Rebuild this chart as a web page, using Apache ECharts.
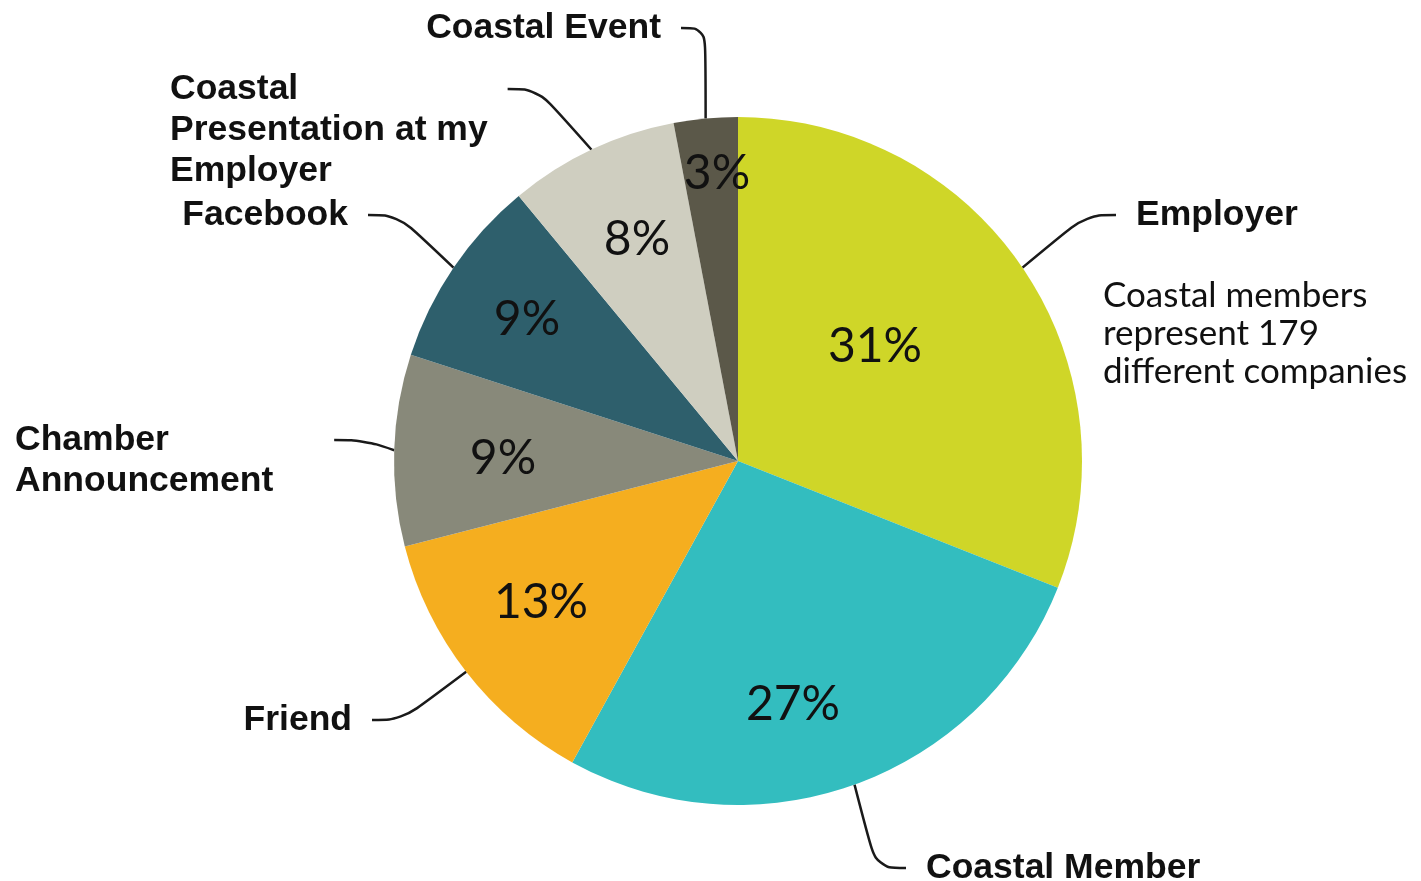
<!DOCTYPE html>
<html><head><meta charset="utf-8">
<script src="https://cdn.jsdelivr.net/npm/echarts@6/dist/echarts.min.js"></script>
<style>html,body{margin:0;padding:0;background:#fff}#c{width:1421px;height:881px}</style>
</head><body><div id="c"></div>
<script>
const categories = ['Employer', 'Coastal Member', 'Friend', 'Chamber\nAnnouncement', 'Facebook', 'Coastal\nPresentation at my\nEmployer', 'Coastal Event'];
const values = [31, 27, 13, 9, 9, 8, 3];
const colors = ['#CFD628', '#33BDBF', '#F5AE1F', '#88897A', '#2E5F6C', '#CFCEC0', '#5B5849'];
const note = 'Coastal members\nrepresent 179\ndifferent companies';

// label placement (text anchors only; outer anchors include a 20px padding gap)
const innerPos = [[875, 347], [793, 705], [541, 603], [503, 459], [527, 320], [637, 240], [717, 174]];
const outerPos = [[1116, 215, 'left'], [906, 868, 'left'], [372, 720, 'right'], [-5, 440, 'left'], [368, 215, 'right'], [150, 89, 'left'], [681, 28, 'right']];
// blank lines placed before the text so the leader line meets the first text line
const leadBlank = [0, 0, 0, 1, 0, 2, 0];

const chart = echarts.init(document.getElementById('c'), null, {renderer: 'canvas'});
const pieData = categories.map((c, i) => ({name: c, value: values[i], itemStyle: {color: colors[i]}}));
const ghostData = categories.map((c, i) => ({name: c, value: values[i]}));

chart.setOption({
  animation: false,
  backgroundColor: '#fff',
  series: [
    {
      type: 'pie',
      center: [738, 461],
      radius: [0, 344],
      startAngle: 90,
      clockwise: true,
      silent: true,
      itemStyle: {borderWidth: 0},
      label: {
        show: true,
        position: 'inside',
        formatter: p => p.value + '%',
        color: '#111',
        fontFamily: 'Lato, "DejaVu Sans", sans-serif',
        fontSize: 48
      },
      labelLine: {show: false},
      labelLayout: p => ({x: innerPos[p.dataIndex][0], y: innerPos[p.dataIndex][1], align: 'center', verticalAlign: 'middle'}),
      data: pieData
    },
    {
      type: 'pie',
      center: [738, 461],
      radius: [0, 344],
      startAngle: 90,
      clockwise: true,
      silent: true,
      itemStyle: {color: 'rgba(0,0,0,0)', borderWidth: 0},
      label: {
        show: true,
        position: 'outside',
        formatter: p => '\n'.repeat(leadBlank[p.dataIndex]) + p.name,
        color: '#111',
        fontFamily: '"Liberation Sans", Arial, sans-serif',
        fontWeight: 'bold',
        fontSize: 35.5,
        lineHeight: 41,
        padding: [0, 20, 0, 20]
      },
      labelLine: {show: true, smooth: 0.4, lineStyle: {color: '#1a1a1a', width: 2.5}},
      labelLayout: p => ({x: outerPos[p.dataIndex][0], y: outerPos[p.dataIndex][1], align: outerPos[p.dataIndex][2], verticalAlign: 'middle'}),
      data: ghostData
    }
  ],
  graphic: [{
    type: 'text',
    left: 1103,
    top: 277,
    style: {
      text: note,
      font: '35px Lato, "DejaVu Sans", sans-serif',
      fill: '#111',
      lineHeight: 38
    }
  }]
});
</script></body></html>
